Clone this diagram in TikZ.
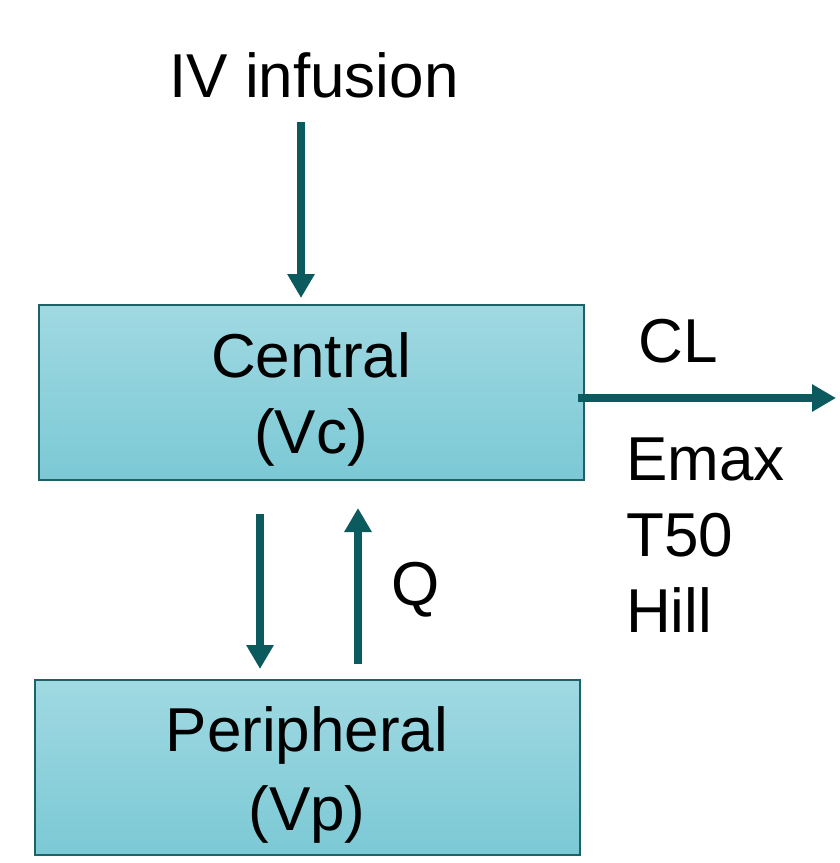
\documentclass[tikz,border=0pt]{standalone}
\usepackage{fontspec}
\setmainfont{Liberation Sans}
\usetikzlibrary{arrows.meta}
\definecolor{teal}{HTML}{0B5A5E}
\definecolor{boxtop}{HTML}{A0D9E2}
\definecolor{boxbot}{HTML}{7BC9D5}
\definecolor{boxline}{HTML}{1C6266}
\tikzset{
  comp/.style={draw=boxline, line width=2pt, top color=boxtop, bottom color=boxbot, minimum width=545pt, minimum height=175pt, inner sep=0pt},
  flow/.style={draw=teal, line width=8pt, -{Triangle[length=24pt,width=26pt]}},
  lbl/.style={font=\fontsize{62}{76}\selectfont, inner sep=0pt, anchor=base, text=black}
}
\begin{document}
\begin{tikzpicture}[x=1pt,y=-1pt]
\useasboundingbox (0,0) rectangle (839,863);
\node[comp] (central) at (311.5,392.5) {};
\node[comp] (periph) at (307.5,767.5) {};
\node[lbl] (ctext1) at (311,377) {Central};
\node[lbl] (ctext2) at (311,453) {(Vc)};
\node[lbl] (ptext1) at (307,751) {Peripheral};
\node[lbl] (ptext2) at (307,830) {(Vp)};
\node[lbl] (iv) at (314,97) {IV infusion};
\node[lbl] (cl) at (678,362) {CL};
\node[lbl, anchor=base west] (emax) at (626,480) {Emax};
\node[lbl, anchor=base west] (t50) at (626,556) {T50};
\node[lbl, anchor=base west] (hill) at (626,632) {Hill};
\node[lbl] (q) at (416,605) {Q};
\coordinate (ivs) at (301,122);
\coordinate (ive) at (301,298);
\coordinate (cls) at (578,398);
\coordinate (cle) at (836,398);
\coordinate (ds) at (260,514);
\coordinate (de) at (260,669);
\coordinate (us) at (358,664);
\coordinate (ue) at (358,508);
\draw[flow] (ivs) -- (ive);
\draw[flow] (cls) -- (cle);
\draw[flow] (ds) -- (de);
\draw[flow] (us) -- (ue);
\end{tikzpicture}
\end{document}
